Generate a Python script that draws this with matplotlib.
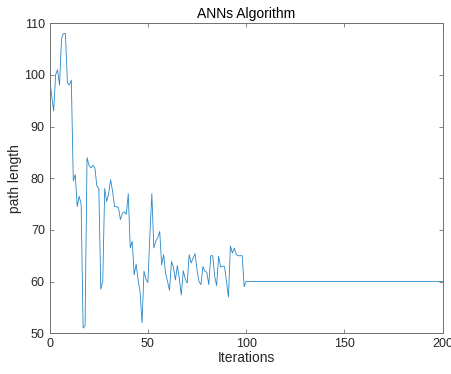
"""Recreate the ANNs Algorithm convergence plot (MATLAB-like styling)."""

import matplotlib

matplotlib.use("Agg")
import matplotlib.pyplot as plt  # noqa: E402
import numpy as np  # noqa: E402

# path length per iteration for iterations 0..100
path_length = [
    99, 96, 93, 100, 101, 98, 107, 108, 108, 98.5,
    98, 99, 79.5, 80.7, 74.5, 76.5, 75, 51, 51.5, 84,
    82.5, 82, 82.5, 82, 78.5, 78, 58.5, 60, 78, 75.5,
    77, 79.7, 77.5, 74.5, 74.5, 74.3, 72, 73.2, 73.5, 73,
    77, 66.5, 67.8, 61.3, 63.4, 60.3, 58, 52, 62, 60.5,
    59.8, 69, 77, 66.5, 67.8, 68.5, 69.7, 63.2, 65.2, 61.6,
    60, 58.3, 63.9, 62.8, 60.3, 63.1, 60.5, 57.4, 62.1, 60.5,
    59.7, 65.2, 63.6, 64.5, 65.4, 62.3, 60, 59.4, 62.9, 62,
    61.8, 59.4, 65, 65, 61, 59.2, 64.9, 62.8, 63, 62.9,
    60, 57, 66.9, 65.5, 66.5, 65.2, 65, 65, 65, 59,
    60,
]
# after iteration 100 the path length stays flat until the last iteration
tail_iter = [200]
tail_length = [60]

x_ticks = [0, 50, 100, 150, 200]
y_ticks = [50, 60, 70, 80, 90, 100, 110]

LINE_COLOR = "#0072BD"
AXIS_COLOR = "#707070"
TEXT_COLOR = "#262626"

plt.rcParams["font.family"] = ["Liberation Sans", "DejaVu Sans"]

fig = plt.figure(figsize=(4.52, 3.74), dpi=100)
ax = fig.add_axes([0.110, 0.109, 0.869, 0.829])

x = list(np.arange(len(path_length))) + tail_iter
y = path_length + tail_length
ax.plot(x, y, color=LINE_COLOR, linewidth=0.6, alpha=0.85)

ax.set_xlim(0, 200)
ax.set_ylim(50, 110)
ax.set_xticks(x_ticks)
ax.set_yticks(y_ticks)
ax.tick_params(direction="in", length=3, width=0.6, colors=AXIS_COLOR,
               labelcolor=TEXT_COLOR, labelsize=9, top=True, right=True)
for spine in ax.spines.values():
    spine.set_color(AXIS_COLOR)
    spine.set_linewidth(0.7)

ax.set_xlabel("Iterations", fontsize=10, color=TEXT_COLOR, labelpad=1)
ax.set_ylabel("path length", fontsize=10, color=TEXT_COLOR, labelpad=1)
ax.set_title("ANNs Algorithm", fontsize=10, color="black", pad=4)

fig.savefig("out.png", dpi=100)
plt.close(fig)
